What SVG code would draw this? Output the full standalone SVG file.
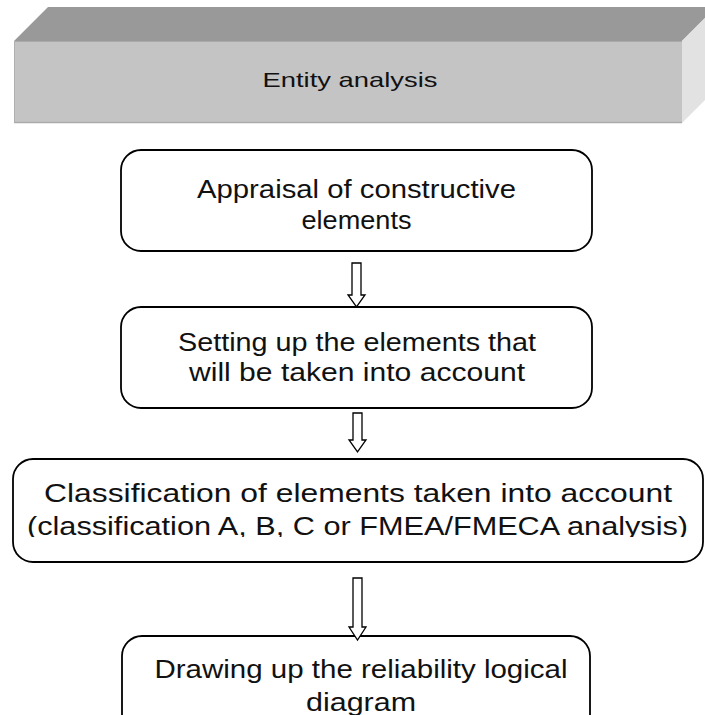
<svg xmlns="http://www.w3.org/2000/svg" width="705" height="715" viewBox="0 0 705 715">
<style>
.box{fill:#fff;stroke:#000;stroke-width:1.8}
.t{font-family:"Liberation Sans",Arial,sans-serif;fill:#111;text-anchor:middle}
.arr{fill:#fff;stroke:#000;stroke-width:1.3;stroke-linejoin:miter}
</style>
<defs>
<clipPath id="c3"><rect x="0" y="455" width="705" height="82"/></clipPath>
</defs>
<rect width="705" height="715" fill="#fff"/>
<g id="entity">
<polygon points="14,41 48,7 705,7 705,18 682,41" fill="#999999"/>
<polygon points="682,41 705,18 705,100 682,123" fill="#e2e2e2"/>
<rect x="14" y="41" width="668" height="82" fill="#c4c4c4"/>
<line x1="14" y1="41.5" x2="682" y2="41.5" stroke="#aaaaaa" stroke-width="1"/>
<line x1="14" y1="122.5" x2="682" y2="122.5" stroke="#aaaaaa" stroke-width="1.5"/>
<line x1="14.5" y1="41" x2="14.5" y2="123" stroke="#b0b0b0" stroke-width="1"/>
<text class="t" x="350" y="87" font-size="21" textLength="175" lengthAdjust="spacingAndGlyphs">Entity analysis</text>
</g>
<g id="n1">
<rect class="box" x="121" y="150" width="471" height="101" rx="20"/>
<text class="t" x="356.5" y="198" font-size="25" textLength="319" lengthAdjust="spacingAndGlyphs">Appraisal of constructive</text>
<text class="t" x="356.5" y="229" font-size="25" textLength="110" lengthAdjust="spacingAndGlyphs">elements</text>
</g>
<g id="n2">
<rect class="box" x="121" y="307" width="471" height="101" rx="20"/>
<text class="t" x="357" y="351" font-size="25" textLength="358" lengthAdjust="spacingAndGlyphs">Setting up the elements that</text>
<text class="t" x="357" y="381" font-size="25" textLength="336" lengthAdjust="spacingAndGlyphs">will be taken into account</text>
</g>
<g id="n3">
<rect class="box" x="13" y="459" width="690" height="103" rx="20"/>
<g clip-path="url(#c3)">
<text class="t" x="358" y="502" font-size="25" textLength="628" lengthAdjust="spacingAndGlyphs">Classification of elements taken into account</text>
<text class="t" x="357.5" y="535" font-size="25" textLength="661" lengthAdjust="spacingAndGlyphs">(classification A, B, C or FMEA/FMECA analysis)</text>
</g>
</g>
<g id="n4">
<rect class="box" x="122" y="636" width="468" height="110" rx="20"/>
<text class="t" x="361" y="678" font-size="25" textLength="413" lengthAdjust="spacingAndGlyphs">Drawing up the reliability logical</text>
<text class="t" x="361" y="711" font-size="25" textLength="110" lengthAdjust="spacingAndGlyphs">diagram</text>
</g>
<g id="connectors">
<polygon class="arr" points="352,263 361,263 361,295 365,295 356.5,307 348,295 352,295"/>
<polygon class="arr" points="353,413 362,413 362,440 366,440 357.5,452 349,440 353,440"/>
<polygon class="arr" points="353,578 362,578 362,627 366,627 357.5,640 349,627 353,627"/>
</g>
</svg>
